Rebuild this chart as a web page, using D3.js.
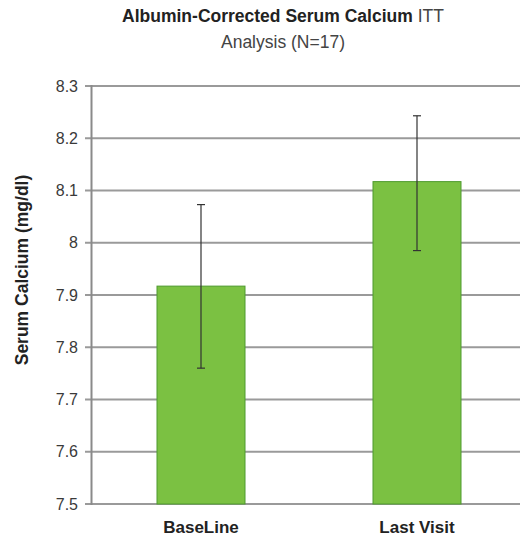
<!DOCTYPE html>
<html><head><meta charset="utf-8">
<script src="https://cdn.jsdelivr.net/npm/d3@7"></script>
<style>body{margin:0;background:#fff}svg{display:block}</style>
</head><body><svg id="c" width="525" height="542"></svg>
<script>
const categories = ["BaseLine", "Last Visit"];
const means = [7.917, 8.117];
const errLow = [7.760, 7.985];
const errHigh = [8.073, 8.243];
const yTicks = [7.5, 7.6, 7.7, 7.8, 7.9, 8, 8.1, 8.2, 8.3];

const svg = d3.select("#c");
const font = "'Liberation Sans', Arial, sans-serif";
const y = d3.scaleLinear().domain([7.5, 8.3]).range([504, 86]);
const x = d3.scalePoint().domain(categories).range([93, 525]).padding(0.5);
const barW = 88;

// gridlines
svg.append("g").selectAll("line").data(yTicks).join("line")
  .attr("x1", 85).attr("x2", 520)
  .attr("y1", d => y(d)).attr("y2", d => y(d))
  .attr("stroke", "#9a9a9a").attr("stroke-width", 2);

// axis line
svg.append("line").attr("x1", 91.5).attr("x2", 91.5).attr("y1", y(8.3) - 1).attr("y2", y(7.5) + 1)
  .attr("stroke", "#8a8a8a").attr("stroke-width", 2);

// tick labels
svg.append("g").selectAll("text").data(yTicks).join("text")
  .attr("x", 78).attr("y", d => y(d)).attr("dy", "0.35em")
  .attr("text-anchor", "end").attr("font-family", font).attr("font-size", 16)
  .attr("fill", "#3a3a3a").text(d => d3.format("")(d));

// bars
svg.append("g").selectAll("rect").data(categories).join("rect")
  .attr("x", d => x(d) - barW / 2).attr("width", barW)
  .attr("y", (d, i) => y(means[i])).attr("height", (d, i) => y(7.5) - y(means[i]))
  .attr("fill", "#7bc142").attr("stroke", "#4e9a2e").attr("stroke-width", 1);

// error bars
const eb = svg.append("g").attr("stroke", "#333").attr("stroke-width", 1.2);
categories.forEach((c, i) => {
  const cx = x(c);
  eb.append("line").attr("x1", cx).attr("x2", cx).attr("y1", y(errHigh[i])).attr("y2", y(errLow[i]));
  eb.append("line").attr("x1", cx - 4).attr("x2", cx + 4).attr("y1", y(errHigh[i])).attr("y2", y(errHigh[i]));
  eb.append("line").attr("x1", cx - 4).attr("x2", cx + 4).attr("y1", y(errLow[i])).attr("y2", y(errLow[i]));
});

// x labels
svg.append("g").selectAll("text").data(categories).join("text")
  .attr("x", d => x(d)).attr("y", 533).attr("text-anchor", "middle")
  .attr("font-family", font).attr("font-size", 17).attr("font-weight", "bold")
  .attr("fill", "#222").text(d => d);

// y title
svg.append("text").attr("transform", "translate(28,270) rotate(-90)")
  .attr("text-anchor", "middle").attr("font-family", font).attr("font-size", 17.5)
  .attr("font-weight", "bold").attr("fill", "#222").text("Serum Calcium (mg/dl)");

// title
const t = svg.append("text").attr("x", 283).attr("y", 22).attr("text-anchor", "middle")
  .attr("font-family", font).attr("font-size", 17.5).attr("fill", "#222");
t.append("tspan").attr("font-weight", "bold").text("Albumin-Corrected Serum Calcium ");
t.append("tspan").attr("fill", "#444").text("ITT");
svg.append("text").attr("x", 283).attr("y", 48).attr("text-anchor", "middle")
  .attr("font-family", font).attr("font-size", 17.5).attr("fill", "#444").text("Analysis (N=17)");
</script></body></html>
